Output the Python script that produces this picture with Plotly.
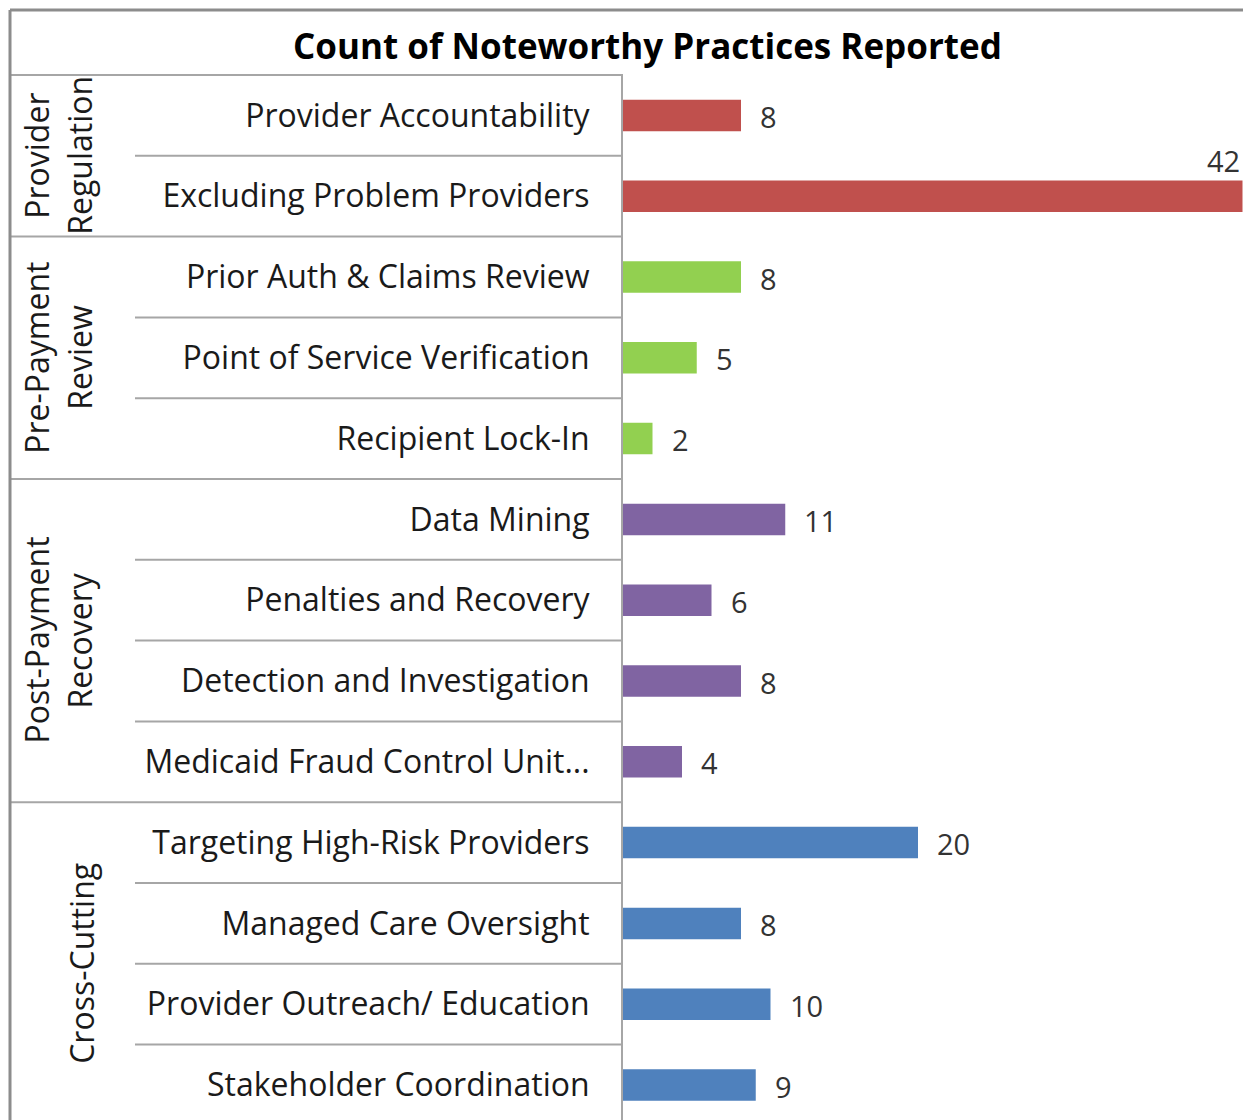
import plotly.graph_objects as go

categories = ["Provider Accountability", "Excluding Problem Providers",
              "Prior Auth & Claims Review", "Point of Service Verification", "Recipient Lock-In",
              "Data Mining", "Penalties and Recovery", "Detection and Investigation", "Medicaid Fraud Control Unit...",
              "Targeting High-Risk Providers", "Managed Care Oversight", "Provider Outreach/ Education", "Stakeholder Coordination"]
values = [8, 42, 8, 5, 2, 11, 6, 8, 4, 20, 8, 10, 9]
groups = ["Provider Regulation"] * 2 + ["Pre-Payment Review"] * 3 + ["Post-Payment Recovery"] * 4 + ["Cross-Cutting"] * 4
group_lines = {
    "Provider Regulation": ["Provider", "Regulation"],
    "Pre-Payment Review": ["Pre-Payment", "Review"],
    "Post-Payment Recovery": ["Post-Payment", "Recovery"],
    "Cross-Cutting": ["Cross-Cutting"],
}
group_colors = {
    "Provider Regulation": "#C0504D",
    "Pre-Payment Review": "#92D050",
    "Post-Payment Recovery": "#8064A2",
    "Cross-Cutting": "#4F81BD",
}
title = "Count of Noteworthy Practices Reported"

OFF = 8  # page body margin
W, H = 1251 - OFF, 1120 - OFF
L, T = 623 - OFF, 75 - OFF
PW, PH = W - L, H - T
ROW = 80.8
ymax = PH / ROW - 0.5
xmax = PW / 14.75

FONT = "Open Sans"
TXT = "#1a1a1a"
LINE = "#A6A6A6"
FS = 32
FSV = 29

idx = list(range(len(categories)))
fig = go.Figure()
fig.add_trace(go.Bar(
    x=values, y=idx, orientation="h", width=0.39,
    marker=dict(color=[group_colors[g] for g in groups], line=dict(width=0)),
    hoverinfo="skip",
))

def px_x(p):
    return (p - OFF - L) / PW

def px_y(p):
    return 1 - (p - OFF - T) / PH

annotations = []
vmax = max(values)
for i, v in enumerate(values):
    if v == vmax:
        annotations.append(dict(x=v, y=i, xref="x", yref="y", text=str(v), showarrow=False,
                                xanchor="right", yanchor="bottom", yshift=14, xshift=-1,
                                font=dict(family=FONT, size=FSV, color="#333333")))
    else:
        annotations.append(dict(x=v, y=i, xref="x", yref="y", text=str(v), showarrow=False,
                                xanchor="left", yanchor="middle", xshift=17, yshift=-1,
                                font=dict(family=FONT, size=FSV, color="#333333")))

shapes = []
start = 0
ordered_groups = []
for g in groups:
    if g not in ordered_groups:
        ordered_groups.append(g)
for g in ordered_groups:
    n = groups.count(g)
    center = start + (n - 1) / 2
    lines = group_lines[g]
    xs = [37, 80] if len(lines) == 2 else [82]
    for ln, xp in zip(lines, xs):
        annotations.append(dict(x=px_x(xp), y=center, xref="paper", yref="y", text=ln,
                                textangle=-90, showarrow=False, xanchor="center", yanchor="middle",
                                font=dict(family=FONT, size=FS, color=TXT)))
    end = start + n
    if end < len(categories):
        shapes.append(dict(type="line", xref="paper", yref="y", x0=px_x(10), x1=0,
                           y0=end - 0.5, y1=end - 0.5, line=dict(color=LINE, width=2)))
    for k in range(start + 1, end):
        shapes.append(dict(type="line", xref="paper", yref="y", x0=px_x(135), x1=0,
                           y0=k - 0.5, y1=k - 0.5, line=dict(color=LINE, width=2)))
    start = end

shapes.append(dict(type="line", xref="paper", yref="paper", x0=px_x(10), x1=0,
                   y0=px_y(75), y1=px_y(75), line=dict(color=LINE, width=2)))
shapes.append(dict(type="line", xref="paper", yref="paper", x0=px_x(10), x1=px_x(1260),
                   y0=px_y(10), y1=px_y(10), line=dict(color="#8C8C8C", width=3)))
shapes.append(dict(type="line", xref="paper", yref="paper", x0=px_x(10), x1=px_x(10),
                   y0=px_y(10), y1=px_y(1130), line=dict(color="#8C8C8C", width=3)))

annotations.append(dict(x=px_x(647), y=px_y(45), xref="paper", yref="paper",
                        text="<b>" + title + "</b>", showarrow=False,
                        xanchor="center", yanchor="middle",
                        font=dict(family=FONT, size=35, color="#000000")))

fig.update_layout(
    width=W, height=H,
    margin=dict(l=L, r=0, t=T, b=0, pad=0),
    paper_bgcolor="white", plot_bgcolor="white",
    showlegend=False,
    xaxis=dict(range=[0, xmax], visible=False, fixedrange=True),
    yaxis=dict(range=[ymax, -0.5], tickmode="array", tickvals=idx, ticktext=categories,
               ticks="outside", ticklen=25, tickcolor="rgba(0,0,0,0)",
               showline=True, linecolor=LINE, linewidth=2, showgrid=False, zeroline=False,
               tickfont=dict(family=FONT, size=FS, color=TXT), fixedrange=True),
    shapes=shapes,
    annotations=annotations,
)

fig.write_html("out.html")
